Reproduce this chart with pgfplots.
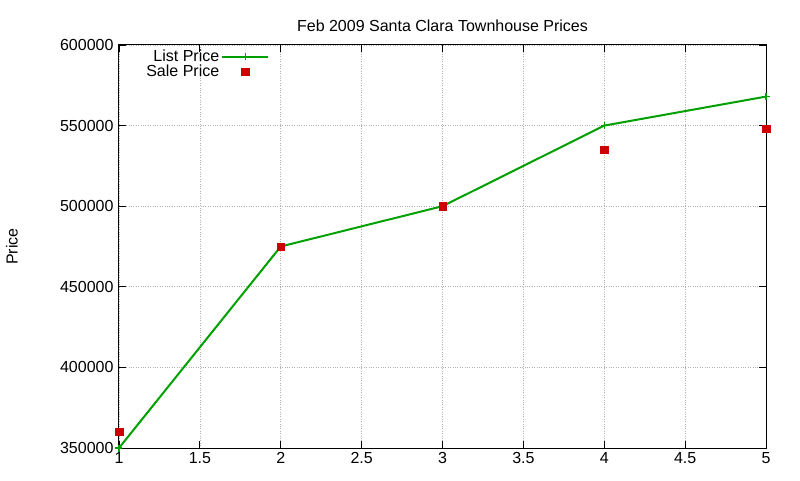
\documentclass[border=0pt]{standalone}
\usepackage{pgfplots}
\pgfplotsset{compat=1.18}
\usepackage{fontspec}
\setmainfont{Liberation Sans}
\definecolor{listgreen}{RGB}{0,160,0}
\definecolor{salered}{RGB}{204,0,0}
\newcommand{\gfont}{\fontsize{16}{18}\selectfont}
\pgfplotsset{
  longline legend/.style={legend image code/.code={%
    \draw[mark repeat=2, mark phase=2, ##1]
      plot coordinates {(5pt,0pt)(28pt,0pt)(51pt,0pt)};}},
  midmark legend/.style={legend image code/.code={%
    \draw[##1] plot coordinates {(28pt,0pt)};}},
}
\begin{document}
\begin{tikzpicture}
\begin{axis}[
  scale only axis,
  width=647pt, height=403pt,
  xmin=1, xmax=5, ymin=350000, ymax=600000,
  xtick={1,1.5,2,2.5,3,3.5,4,4.5,5},
  xticklabels={1,1.5,2,2.5,3,3.5,4,4.5,5},
  ytick={350000,400000,450000,500000,550000,600000},
  yticklabels={350000,400000,450000,500000,550000,600000},
  scaled y ticks=false,
  scaled x ticks=false,
  tick align=inside,
  major tick length=7pt,
  tick style={black, line width=0.8pt},
  axis line style={black, line width=1pt},
  grid=major,
  grid style={gray!60, dotted, line width=0.7pt},
  ticklabel style={font=\gfont},
  xticklabel style={yshift=-1pt},
  yticklabel style={xshift=-2pt},
  title={Feb 2009 Santa Clara Townhouse Prices},
  title style={font=\gfont, yshift=4pt},
  ylabel={Price},
  every axis y label/.style={at={(axis description cs:-0.1654,0.5)}, anchor=center,
    rotate=90, font=\gfont},
  legend style={draw=none, fill=none, at={(0.2325,0.993)}, anchor=north east,
    font=\gfont, row sep=-2pt, inner sep=0pt,
    nodes={inner sep=2pt}},
  legend cell align=right,
  legend plot pos=right,
]
\coordinate (O) at (rel axis cs:0,0);
\addplot[listgreen, line width=2pt, mark=+, mark size=3.5pt, mark options={line width=1.2pt},
  longline legend]
  coordinates {(1,350000)(2,475000)(3,500000)(4,550000)(5,568000)};
\addlegendentry{List Price}
\addplot[only marks, mark=square*, mark size=3.8pt, color=salered, midmark legend]
  coordinates {(1,360000)(2,475000)(3,500000)(4,535000)(5,548000)};
\addlegendentry{Sale Price}
\end{axis}
\path[use as bounding box] (O) ++(-119pt,-32pt) rectangle ++(800pt,480pt);
\end{tikzpicture}
\end{document}
